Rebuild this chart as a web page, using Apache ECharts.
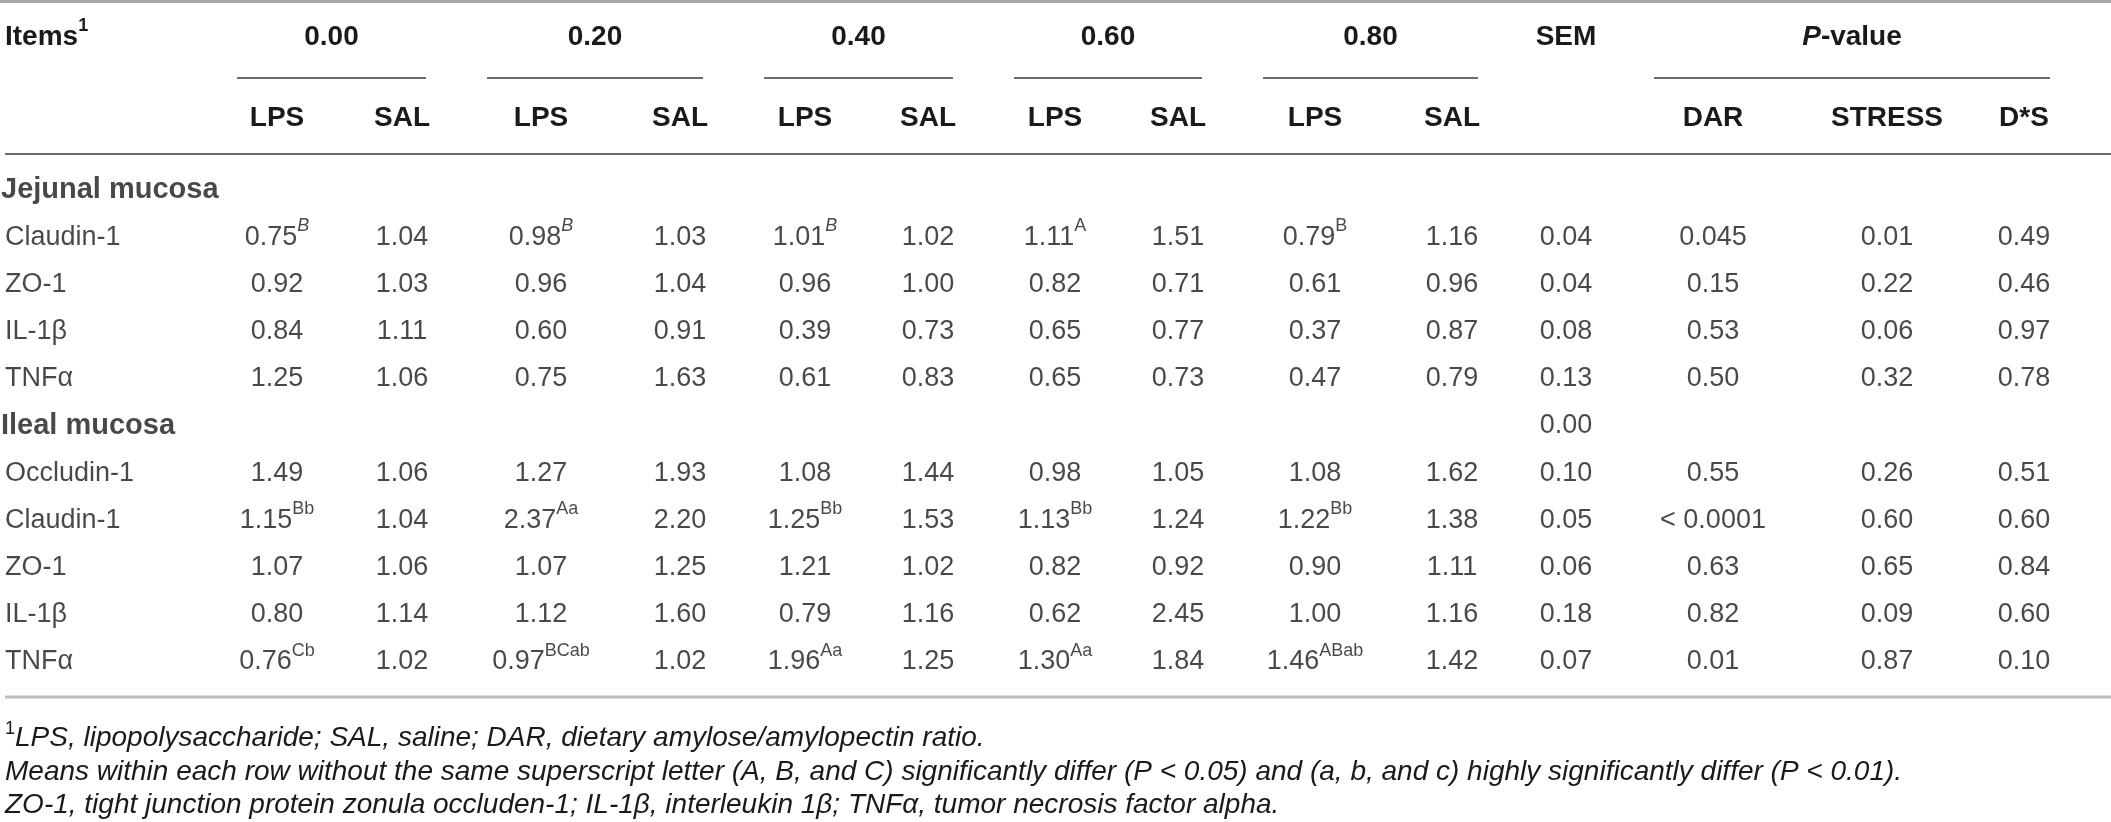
<!DOCTYPE html>
<html>
<head>
<meta charset="utf-8">
<script src="https://cdn.jsdelivr.net/npm/echarts@6/dist/echarts.min.js"></script>
<style>
html,body{margin:0;padding:0;background:#fff;}
#chart{width:2111px;height:822px;}
</style>
</head>
<body>
<div id="chart"></div>
<script>
// ---------------- DATA ----------------
const rowLabels = ['Jejunal mucosa','Claudin-1','ZO-1','IL-1β','TNFα','Ileal mucosa','Occludin-1','Claudin-1','ZO-1','IL-1β','TNFα'];
const sectionRows = [0, 5];
const doses = ['0.00','0.20','0.40','0.60','0.80'];
const treatments = ['LPS','SAL'];
const pHeaders = ['DAR','STRESS','D*S'];

const lps000 = ['', '0.75','0.92','0.84','1.25','', '1.49','1.15','1.07','0.80','0.76'];
const sal000 = ['', '1.04','1.03','1.11','1.06','', '1.06','1.04','1.06','1.14','1.02'];
const lps020 = ['', '0.98','0.96','0.60','0.75','', '1.27','2.37','1.07','1.12','0.97'];
const sal020 = ['', '1.03','1.04','0.91','1.63','', '1.93','2.20','1.25','1.60','1.02'];
const lps040 = ['', '1.01','0.96','0.39','0.61','', '1.08','1.25','1.21','0.79','1.96'];
const sal040 = ['', '1.02','1.00','0.73','0.83','', '1.44','1.53','1.02','1.16','1.25'];
const lps060 = ['', '1.11','0.82','0.65','0.65','', '0.98','1.13','0.82','0.62','1.30'];
const sal060 = ['', '1.51','0.71','0.77','0.73','', '1.05','1.24','0.92','2.45','1.84'];
const lps080 = ['', '0.79','0.61','0.37','0.47','', '1.08','1.22','0.90','1.00','1.46'];
const sal080 = ['', '1.16','0.96','0.87','0.79','', '1.62','1.38','1.11','1.16','1.42'];
const sem    = ['', '0.04','0.04','0.08','0.13','0.00','0.10','0.05','0.06','0.18','0.07'];
const pDAR   = ['', '0.045','0.15','0.53','0.50','', '0.55','< 0.0001','0.63','0.82','0.01'];
const pSTRESS= ['', '0.01','0.22','0.06','0.32','', '0.26','0.60','0.65','0.09','0.87'];
const pDS    = ['', '0.49','0.46','0.97','0.78','', '0.51','0.60','0.84','0.60','0.10'];

const supLps000 = ['', 'B','','','','', '','Bb','','','Cb'];
const supLps020 = ['', 'B','','','','', '','Aa','','','BCab'];
const supLps040 = ['', 'B','','','','', '','Bb','','','Aa'];
const supLps060 = ['', 'A','','','','', '','Bb','','','Aa'];
const supLps080 = ['', 'B','','','','', '','Bb','','','ABab'];
const none = rowLabels.map(() => '');

const footnote1 = 'LPS, lipopolysaccharide; SAL, saline; DAR, dietary amylose/amylopectin ratio.';
const footnote2 = 'Means within each row without the same superscript letter (A, B, and C) significantly differ (P < 0.05) and (a, b, and c) highly significantly differ (P < 0.01).';
const footnote3 = 'ZO-1, tight junction protein zonula occluden-1; IL-1β, interleukin 1β; TNFα, tumor necrosis factor alpha.';

// ---------------- LAYOUT ----------------
const W = 2111, H = 822;
const FONT = "'Liberation Sans', Arial, Helvetica, sans-serif";
const TXT = '#1a1a1a';
const COL_X = [277, 402, 541, 680, 805, 928, 1055, 1178, 1315, 1452, 1566, 1713, 1887, 2024];
const DOSE_SPAN = [[237,426],[487,703],[764,953],[1014,1202],[1263,1478]];
const P_SPAN = [1654, 2050];
const SEM_X = 1566;
const ROW_TOP = 166.4, ROW_H = 47.2;
const Y_HEAD1 = 37, Y_SPAN = 78, Y_HEAD2 = 118, Y_RULE = 154, Y_BOTTOM = 697;
const FOOT_Y = [738, 772, 805];
const ITALIC_SUP = {'1-0': true, '1-2': true, '1-4': true};

const columns = [
  [lps000, supLps000], [sal000, none],
  [lps020, supLps020], [sal020, none],
  [lps040, supLps040], [sal040, none],
  [lps060, supLps060], [sal060, none],
  [lps080, supLps080], [sal080, none],
  [sem, none], [pDAR, none], [pSTRESS, none], [pDS, none]
];

const cellRich = {
  v: {fontFamily: FONT, fontSize: 27, color: TXT, lineHeight: 40},
  s: {fontFamily: FONT, fontSize: 18, color: TXT, verticalAlign: 'top', lineHeight: 22},
  si: {fontFamily: FONT, fontSize: 18, color: TXT, fontStyle: 'italic', verticalAlign: 'top', lineHeight: 22}
};

const series = [];
columns.forEach(([vals, sups], c) => {
  const data = [];
  vals.forEach((v, r) => {
    if (v === '') return;
    data.push([COL_X[c], r, v, sups[r], ITALIC_SUP[r + '-' + c] ? 1 : 0]);
  });
  series.push({
    type: 'scatter',
    symbolSize: 0,
    itemStyle: {color: 'rgba(0,0,0,0)'},
    silent: true,
    data: data,
    label: {
      show: true,
      position: 'inside',
      formatter: p => {
        const d = p.data;
        if (!d[3]) return '{v|' + d[2] + '}';
        return '{v|' + d[2] + '}{' + (d[4] ? 'si' : 's') + '|' + d[3] + '}';
      },
      rich: cellRich
    }
  });
});

// row labels
series.push({
  type: 'scatter',
  symbolSize: 0,
  itemStyle: {color: 'rgba(0,0,0,0)'},
  silent: true,
  data: rowLabels.map((name, r) => {
    const isSec = sectionRows.indexOf(r) >= 0;
    return {value: [isSec ? 1 : 5, r, name], label: {
      fontWeight: isSec ? 'bold' : 'normal',
      fontSize: isSec ? 29 : 27
    }};
  }),
  label: {
    show: true,
    position: 'right',
    distance: 0,
    formatter: p => p.data.value[2],
    fontFamily: FONT,
    color: TXT,
    fontSize: 27
  }
});

// ---------------- GRAPHIC (headers, rules, footnotes) ----------------
const g = [];
function line(x1, y1, x2, y2, stroke, lw) {
  g.push({type: 'line', silent: true, shape: {x1, y1, x2, y2}, style: {stroke, lineWidth: lw}});
}
function text(x, y, t, opts) {
  g.push({type: 'text', silent: true, x, y, style: Object.assign({
    text: t, fill: TXT, font: 'bold 28px ' + FONT, textAlign: 'center', textVerticalAlign: 'middle'
  }, opts || {})});
}
line(0, 1.5, W, 1.5, '#a8a8a8', 3);
line(5, Y_RULE, W, Y_RULE, '#6d6d6d', 2);
line(5, Y_BOTTOM, W, Y_BOTTOM, '#bdbdbd', 3);
DOSE_SPAN.forEach(s => line(s[0], Y_SPAN, s[1], Y_SPAN, '#6d6d6d', 2));
line(P_SPAN[0], Y_SPAN, P_SPAN[1], Y_SPAN, '#6d6d6d', 2);

text(5, Y_HEAD1, '{a|Items}{b|1}', {textAlign: 'left', rich: {
  a: {font: 'bold 28px ' + FONT, fill: TXT, lineHeight: 40},
  b: {font: 'bold 18px ' + FONT, fill: TXT, verticalAlign: 'top', lineHeight: 22}
}});
doses.forEach((d, i) => text((DOSE_SPAN[i][0] + DOSE_SPAN[i][1]) / 2, Y_HEAD1, d));
text(SEM_X, Y_HEAD1, 'SEM');
text((P_SPAN[0] + P_SPAN[1]) / 2, Y_HEAD1, '{a|P}{b|-value}', {rich: {
  a: {font: 'italic bold 28px ' + FONT, fill: TXT},
  b: {font: 'bold 28px ' + FONT, fill: TXT}
}});
for (let i = 0; i < 10; i++) text(COL_X[i], Y_HEAD2, treatments[i % 2]);
pHeaders.forEach((h, i) => text(COL_X[11 + i], Y_HEAD2, h));

// footnotes
text(5, FOOT_Y[0], '{a|1}{b|' + footnote1 + '}', {textAlign: 'left', rich: {
  a: {font: '18px ' + FONT, fill: TXT, verticalAlign: 'top', lineHeight: 22},
  b: {font: 'italic 28px ' + FONT, fill: TXT, lineHeight: 36}
}});
text(5, FOOT_Y[1], footnote2, {textAlign: 'left', font: 'italic 28px ' + FONT});
text(5, FOOT_Y[2], footnote3, {textAlign: 'left', font: 'italic 28px ' + FONT});

// ---------------- CHART ----------------
const chart = echarts.init(document.getElementById('chart'), null, {renderer: 'canvas'});
chart.setOption({
  animation: false,
  backgroundColor: '#ffffff',
  grid: {left: 0, right: 0, top: ROW_TOP, height: ROW_H * rowLabels.length, containLabel: false},
  xAxis: {type: 'value', min: 0, max: W, show: false},
  yAxis: {type: 'category', data: rowLabels.map((_, i) => String(i)), inverse: true, show: false, boundaryGap: true},
  series: series,
  graphic: g
});
</script>
</body>
</html>
